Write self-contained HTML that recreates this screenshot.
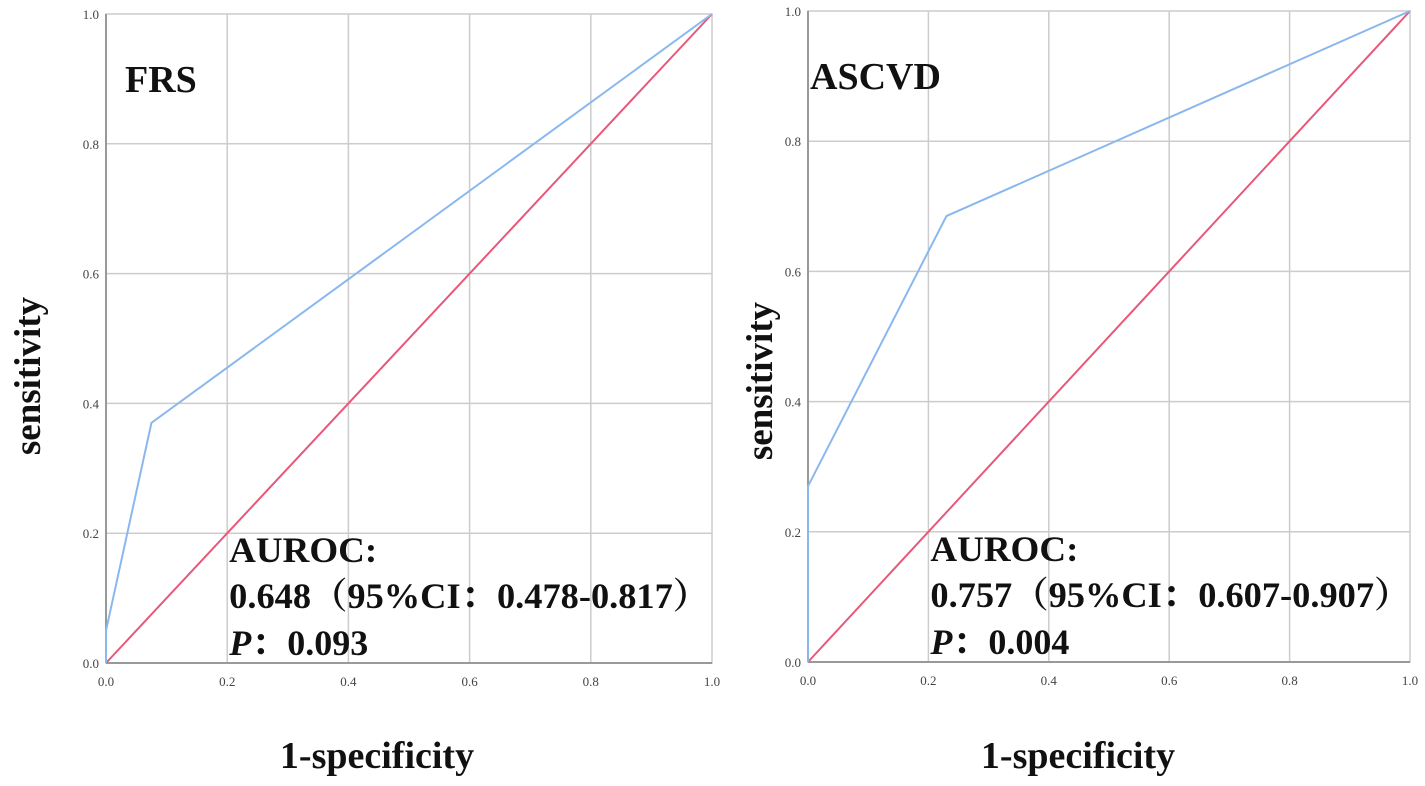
<!DOCTYPE html>
<html><head><meta charset="utf-8"><style>
body{margin:0;background:#fff;width:1425px;height:781px;overflow:hidden}
svg text{font-family:"Liberation Serif",serif}
</style></head><body>
<svg width="1425" height="781" id="fig"></svg>
<script>
const ticks=[0,0.2,0.4,0.6,0.8,1.0];
const tickLabels=["0.0","0.2","0.4","0.6","0.8","1.0"];
const frsX=[0,0,0.075,1];
const frsY=[0,0.05,0.37,1];
const ascvdX=[0,0,0.23,1];
const ascvdY=[0,0.27,0.685,1];
const panels=[
 {name:"frs",x0:106,x1:712,y0:663,y1:14,title:"FRS",tx:125,xs:frsX,ys:frsY,auc:"0.648（95%CI：0.478-0.817）",p:"0.093",ylx:40,ylY:376,xlabY:768,xlabX:377},
 {name:"ascvd",x0:808,x1:1410,y0:662,y1:11,title:"ASCVD",tx:810,xs:ascvdX,ys:ascvdY,auc:"0.757（95%CI：0.607-0.907）",p:"0.004",ylx:772,ylY:381,xlabY:768,xlabX:1078}
];
const svg=document.getElementById('fig');
const NS="http://www.w3.org/2000/svg";
function mk(t,a,txt){const e=document.createElementNS(NS,t);for(const k in a)e.setAttribute(k,a[k]);if(txt!==undefined)e.textContent=txt;svg.appendChild(e);return e;}
panels.forEach(p=>{
 const sx=v=>p.x0+v*(p.x1-p.x0), sy=v=>p.y0-v*(p.y0-p.y1);
 let e=mk('rect',{x:p.x0,y:p.y1,width:p.x1-p.x0,height:p.y0-p.y1,fill:'#fff',stroke:'#ccc','stroke-width':1.5});
 
 
 ticks.forEach((t,i)=>{
  if(i>0&&i<5){
   e=mk('line',{x1:sx(t),x2:sx(t),y1:p.y1,y2:p.y0,stroke:'#ccc','stroke-width':1.5});
   
   
   e=mk('line',{x1:p.x0,x2:p.x1,y1:sy(t),y2:sy(t),stroke:'#ccc','stroke-width':1.5});
   
   
  }
  e=mk('text',{x:sx(t),y:p.y0+23,'font-size':13,fill:'#444','text-anchor':'middle'},tickLabels[i]);
  
  
  e=mk('text',{x:p.x0-7,y:sy(t)+5,'font-size':13,fill:'#444','text-anchor':'end'},tickLabels[i]);
  
  
 });
 e=mk('line',{x1:p.x0,x2:p.x0,y1:p.y1,y2:p.y0,stroke:'#999','stroke-width':2});
 
 
 e=mk('line',{x1:p.x0,x2:p.x1,y1:p.y0,y2:p.y0,stroke:'#999','stroke-width':2});
 
 
 e=mk('line',{x1:sx(0),y1:sy(0),x2:sx(1),y2:sy(1),stroke:'#e8587a','stroke-width':2});
 
 
 e=mk('polyline',{points:p.xs.map((x,i)=>sx(x)+','+sy(p.ys[i])).join(' '),fill:'none',stroke:'#8ab8ee','stroke-width':2});
 
 
 e=mk('text',{x:p.tx,y:p.y1+78,'font-size':38,'font-weight':'bold',fill:'#111'},p.title);
 
 
 const tx=sx(0.2)+2;
 e=mk('text',{x:tx,y:p.y0-101,'font-size':36,'font-weight':'bold',fill:'#111',textLength:148,lengthAdjust:'spacingAndGlyphs'},'AUROC:');
 
 
 e=mk('text',{x:tx,y:p.y0-55,'font-size':36,'font-weight':'bold',fill:'#111',textLength:480,lengthAdjust:'spacingAndGlyphs',style:'font-family:"Liberation Serif","Noto Serif CJK SC",serif'},p.auc);
 
 
 e=mk('text',{x:tx,y:p.y0-8,'font-size':36,'font-weight':'bold',fill:'#111',style:'font-family:"Liberation Serif","Noto Serif CJK SC",serif'});
 e.innerHTML='<tspan font-style="italic">P</tspan>：'+p.p;
 
 
 e=mk('text',{x:p.xlabX,y:p.xlabY,'font-size':38,'font-weight':'bold',fill:'#111','text-anchor':'middle'},'1-specificity');
 
 
 e=mk('text',{x:p.ylx,y:p.ylY,'font-size':37,'font-weight':'bold',fill:'#111','text-anchor':'middle',transform:`rotate(-90 ${p.ylx} ${p.ylY})`},'sensitivity');
 
 
});
</script>
</body></html>
